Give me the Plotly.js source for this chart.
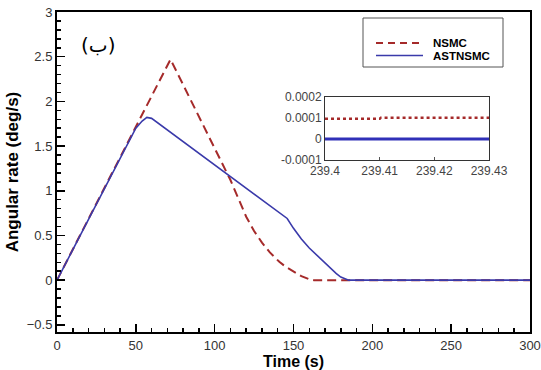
<!DOCTYPE html>
<html><head><meta charset="utf-8">
<script src="https://cdn.plot.ly/plotly-3.0.1.min.js"></script>
<style>body{margin:0;background:#fff}#c{width:541px;height:370px}</style>
</head><body><div id="c"></div>
<script>
// Main series
const tNSMC = [0, 72, 110, 115, 120, 125, 130, 135, 141, 145, 150, 155, 160, 163, 200, 250, 300];
const wNSMC = [0, 2.47, 1.12, 0.92, 0.71, 0.55, 0.42, 0.31, 0.205, 0.15, 0.093, 0.045, 0.01, 0, 0, 0, 0];
const tAST = [0, 20, 40, 50, 54, 57, 60, 70, 80, 90, 100, 112.9, 125, 135, 143, 146, 150, 155, 160, 167, 172, 177, 180, 183, 185, 250, 300];
const wAST = [0, 0.686, 1.37, 1.70, 1.78, 1.82, 1.81, 1.68, 1.55, 1.42, 1.29, 1.12, 0.96, 0.83, 0.73, 0.69, 0.58, 0.46, 0.36, 0.24, 0.15, 0.075, 0.035, 0.01, 0, 0, 0];
// Inset (zoom) series
const tInset = [239.4, 239.405, 239.41, 239.4102, 239.42, 239.43];
const nsmcInset = [0.000095, 0.000095, 0.000095, 0.0001, 0.0001, 0.0001];
const astInset = [0, 0, 0, 0, 0, 0];
const xTicks = [0, 50, 100, 150, 200, 250, 300];
const yTicks = [-0.5, 0, 0.5, 1, 1.5, 2, 2.5, 3];
const insetXTicks = [239.4, 239.41, 239.42, 239.43];
const insetYTicks = [-0.0001, 0, 0.0001, 0.0002];
const insetYLabels = ['-0.0001', '0', '0.0001', '0.0002'];
const names = ['NSMC', 'ASTNSMC'];

const red = '#a52a2a', blue = '#3a3aaa';
const tickFont = {family: 'Liberation Sans, Arial, sans-serif', size: 13, color: '#333'};
const titleFont = {family: 'Liberation Sans, Arial, sans-serif', size: 16, color: '#000'};

const traces = [
  {x: tNSMC, y: wNSMC, mode: 'lines', name: names[0], line: {color: red, width: 2, dash: '9px,5px'}, xaxis: 'x', yaxis: 'y', showlegend: false},
  {x: tAST, y: wAST, mode: 'lines', name: names[1], line: {color: blue, width: 1.6}, xaxis: 'x', yaxis: 'y', showlegend: false},
  {x: tInset, y: nsmcInset, mode: 'lines', name: names[0], line: {color: red, width: 2.5, dash: 'dot'}, xaxis: 'x2', yaxis: 'y2', showlegend: false},
  {x: tInset, y: astInset, mode: 'lines', name: names[1], line: {color: '#3030b8', width: 3}, xaxis: 'x2', yaxis: 'y2', showlegend: false}
];

const px = (p) => (p - 57) / 473;
const py = (p) => (332 - p) / 320;

const layout = {
  width: 541, height: 370,
  margin: {l: 57, r: 11, t: 12, b: 38},
  paper_bgcolor: '#fff', plot_bgcolor: '#fff',
  showlegend: false,
  xaxis: {
    range: [0, 300], tickvals: xTicks, ticks: 'inside', ticklen: 8, tickwidth: 1.5, tickcolor: '#000',
    minor: {dtick: 10, ticks: 'inside', ticklen: 4, tickcolor: '#000'},
    showline: true, linecolor: '#000', linewidth: 2, mirror: true, showgrid: false, zeroline: false,
    tickfont: tickFont,
    title: {text: '<b>Time (s)</b>', font: titleFont, standoff: 3}
  },
  yaxis: {
    range: [-0.58, 3], tickvals: yTicks, ticks: 'inside', ticklen: 8, tickwidth: 1.5, tickcolor: '#000',
    minor: {dtick: 0.1, ticks: 'inside', ticklen: 4, tickcolor: '#000'},
    showline: true, linecolor: '#000', linewidth: 2, mirror: true, showgrid: false, zeroline: false,
    tickfont: tickFont,
    title: {text: '<b>Angular rate (deg/s)</b>', font: {family: 'Liberation Sans, Arial, sans-serif', size: 17, color: '#000'}, standoff: 4}
  },
  xaxis2: {
    domain: [px(325), px(489)], anchor: 'y2', range: [239.4, 239.43], tickvals: insetXTicks,
    ticks: 'inside', ticklen: 3, tickcolor: '#555',
    showline: true, linecolor: '#333', linewidth: 1, mirror: true, showgrid: false, zeroline: false,
    tickfont: {family: 'Liberation Sans, Arial, sans-serif', size: 12, color: '#444'}
  },
  yaxis2: {
    domain: [py(160), py(96.7)], anchor: 'x2', range: [-0.0001, 0.0002], tickvals: insetYTicks, ticktext: insetYLabels,
    ticks: '', showline: true, linecolor: '#333', linewidth: 1, mirror: true, showgrid: false, zeroline: false,
    tickfont: {family: 'Liberation Sans, Arial, sans-serif', size: 12, color: '#444'}
  },
  shapes: [
    {type: 'rect', xref: 'paper', yref: 'paper', x0: px(363), x1: px(503), y0: py(67), y1: py(18), line: {color: '#555', width: 1}, fillcolor: '#fff', layer: 'below'},
    {type: 'line', xref: 'paper', yref: 'paper', x0: px(376), x1: px(423), y0: py(43), y1: py(43), line: {color: red, width: 2, dash: '7px,5px'}},
    {type: 'line', xref: 'paper', yref: 'paper', x0: px(376), x1: px(423), y0: py(55.5), y1: py(55.5), line: {color: blue, width: 1.6}}
  ],
  annotations: [
    {xref: 'paper', yref: 'paper', x: px(431), y: py(43), xanchor: 'left', yanchor: 'middle', showarrow: false, text: '<b>' + names[0] + '</b>', font: {family: 'Liberation Sans, Arial, sans-serif', size: 11.5, color: '#000'}},
    {xref: 'paper', yref: 'paper', x: px(431), y: py(55.5), xanchor: 'left', yanchor: 'middle', showarrow: false, text: '<b>' + names[1] + '</b>', font: {family: 'Liberation Sans, Arial, sans-serif', size: 11.5, color: '#000'}},
    {xref: 'paper', yref: 'paper', x: px(98), y: py(45), xanchor: 'center', yanchor: 'middle', showarrow: false, text: '(ب)', font: {family: 'DejaVu Sans, sans-serif', size: 20, color: '#000'}}
  ]
};

Plotly.newPlot('c', traces, layout, {displayModeBar: false, staticPlot: true});
</script>
</body></html>
